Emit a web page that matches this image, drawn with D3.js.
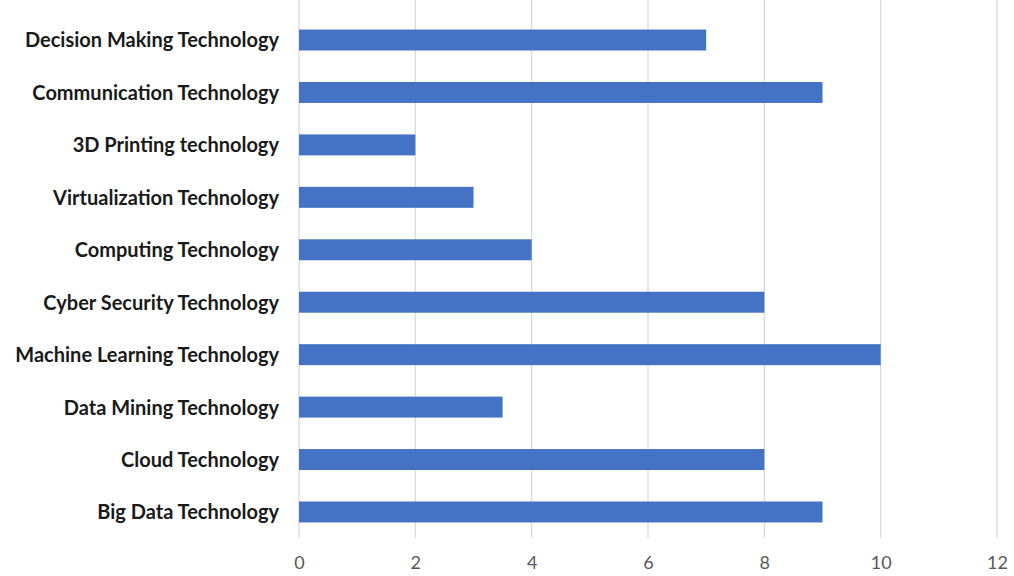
<!DOCTYPE html>
<html>
<head>
<meta charset="utf-8">
<script src="https://cdn.jsdelivr.net/npm/d3@7"></script>
<style>
  html, body { margin: 0; padding: 0; background: #fff; }
  svg { display: block; }
</style>
</head>
<body>
<svg id="chart" width="1014" height="576"></svg>
<script>
// Technology categories, listed top to bottom
const categories = [
  "Decision Making Technology",
  "Communication Technology",
  "3D Printing technology",
  "Virtualization Technology",
  "Computing Technology",
  "Cyber Security Technology",
  "Machine Learning Technology",
  "Data Mining Technology",
  "Cloud Technology",
  "Big Data Technology"
];
const values = [7, 9, 2, 3, 4, 8, 10, 3.5, 8, 9];
const xTicks = [0, 2, 4, 6, 8, 10, 12];

const svg = d3.select("#chart");
const fontFamily = "Lato, 'Open Sans', 'Liberation Sans', sans-serif";

const x = d3.scaleLinear().domain([0, 12]).range([299, 997]);
const y = d3.scaleBand().domain(categories).range([13.8, 538.2]).paddingInner(0.6).paddingOuter(0.3);

// vertical gridlines
svg.append("g")
  .selectAll("line")
  .data(xTicks)
  .join("line")
  .attr("x1", d => x(d)).attr("x2", d => x(d))
  .attr("y1", 0).attr("y2", 538)
  .attr("stroke", "#d9d9d9")
  .attr("stroke-width", 1.2);

// bars
svg.append("g")
  .selectAll("rect")
  .data(categories)
  .join("rect")
  .attr("x", x(0))
  .attr("y", d => y(d))
  .attr("width", (d, i) => x(values[i]) - x(0))
  .attr("height", y.bandwidth())
  .attr("fill", "#4472c4");

// category labels
const yAxis = d3.axisLeft(y).tickSize(0).tickPadding(0);
const gy = svg.append("g").attr("transform", `translate(279,1)`).call(yAxis);
gy.select(".domain").remove();
gy.selectAll("text")
  .attr("font-family", fontFamily)
  .attr("font-weight", "bold")
  .attr("font-size", "20px")
  .attr("fill", "#1a1a1a");

// value axis labels
const xAxis = d3.axisBottom(x).tickValues(xTicks).tickSize(0).tickPadding(0);
const gx = svg.append("g").attr("transform", `translate(0,556)`).call(xAxis);
gx.select(".domain").remove();
gx.selectAll("text")
  .attr("dy", "0.71em")
  .attr("font-family", fontFamily)
  .attr("font-size", "18px")
  .attr("fill", "#595959");
</script>
</body>
</html>
